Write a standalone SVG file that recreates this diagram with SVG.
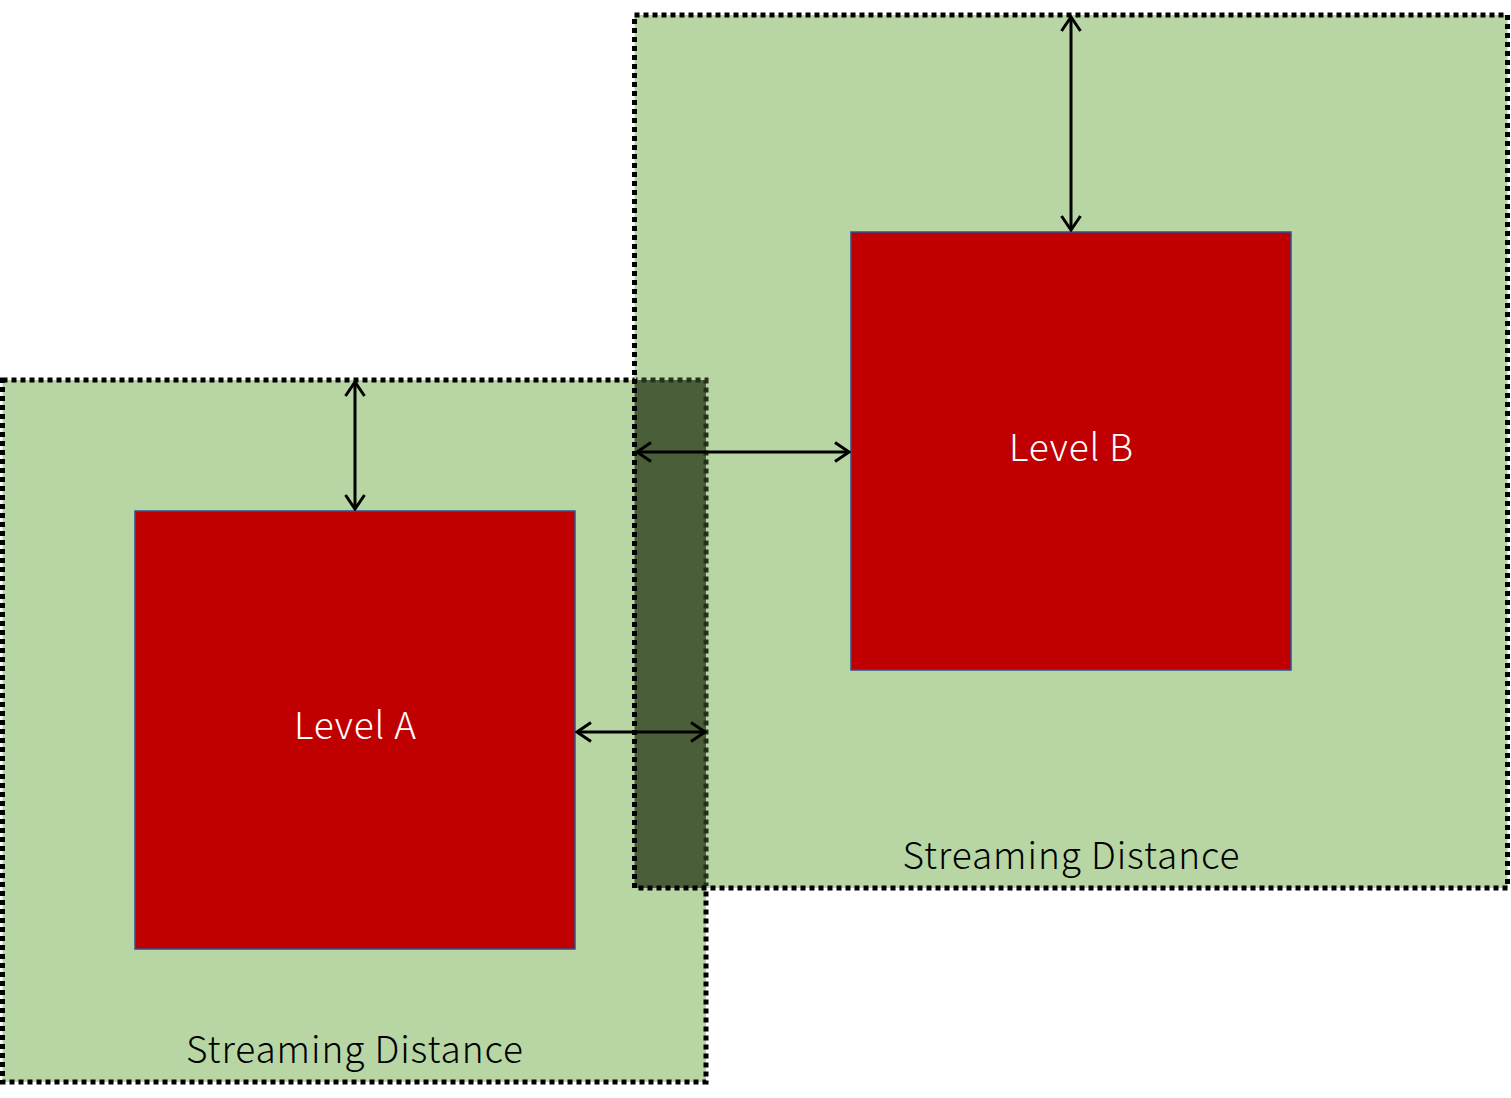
<svg xmlns="http://www.w3.org/2000/svg" width="1511" height="1098" viewBox="0 0 1511 1098">
<style>
.zone{fill:#B8D6A4}
.border{fill:none;stroke:#000;stroke-width:5;stroke-dasharray:5 4}
.level{fill:#C00000;stroke:#2F528F;stroke-width:1.5}
.lbl{font-family:"Noto Sans CJK JP","Noto Sans",sans-serif;font-size:37px;font-weight:300;text-anchor:middle}
.white{fill:#fff}
.black{fill:#000}
.arr{stroke:#000;stroke-width:3;fill:none;marker-start:url(#ah);marker-end:url(#ah)}
</style>
<defs>
<marker id="ah" viewBox="-16 -11 18 22" refX="0" refY="0" markerWidth="18" markerHeight="22" markerUnits="userSpaceOnUse" orient="auto-start-reverse">
<path d="M-14,-9.5 L0,0 L-14,9.5" fill="none" stroke="#000" stroke-width="3"/>
</marker>
<clipPath id="ovclip"><rect x="636" y="376" width="76" height="510"/></clipPath>
</defs>
<g id="zoneA">
<rect class="zone" x="2.5" y="380" width="703.5" height="702"/>
<rect id="borderA" class="border" x="2.5" y="380" width="703.5" height="702"/>
<text class="lbl black" x="354.5" y="1063" textLength="337" lengthAdjust="spacing">Streaming Distance</text>
</g>
<g id="zoneB">
<rect class="zone" x="634.5" y="15" width="873" height="873"/>
</g>
<g id="overlap">
<rect x="634.5" y="380" width="71.5" height="508" fill="#4A5F39"/>
<rect x="2.5" y="380" width="703.5" height="702" fill="none" stroke="#24301B" stroke-width="5" stroke-dasharray="5 4" clip-path="url(#ovclip)"/>
</g>
<g id="zoneBborder">
<rect class="border" x="634.5" y="15" width="873" height="873"/>
<text class="lbl black" x="1071" y="869" textLength="337" lengthAdjust="spacing">Streaming Distance</text>
</g>
<g id="levelA">
<rect class="level" x="135" y="511" width="440" height="438"/>
<text class="lbl white" x="355" y="739" textLength="122" lengthAdjust="spacing">Level A</text>
</g>
<g id="levelB">
<rect class="level" x="851" y="232" width="440" height="438"/>
<text class="lbl white" x="1071" y="461" textLength="124" lengthAdjust="spacing">Level B</text>
</g>
<g id="connectors">
<line class="arr" x1="355" y1="382" x2="355" y2="509"/>
<line class="arr" x1="577" y1="732" x2="705" y2="732"/>
<line class="arr" x1="1071" y1="17" x2="1071" y2="230"/>
<line class="arr" x1="637" y1="452" x2="849" y2="452"/>
</g>
</svg>
